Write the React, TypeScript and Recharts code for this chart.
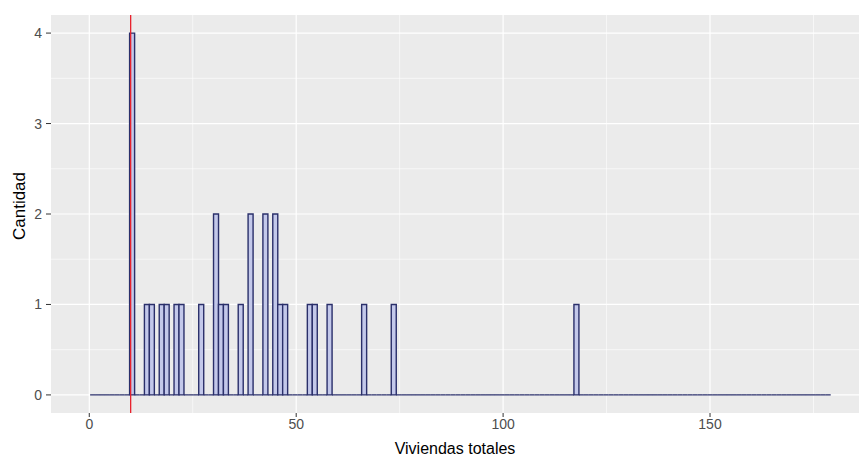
import {
  ComposedChart,
  Bar,
  XAxis,
  YAxis,
  CartesianGrid,
  ReferenceLine,
  Label,
} from "recharts";

// histogram bins (ggplot style: equal width, starting just above 0)
const BIN_START = 0.2;
const BIN_WIDTH = 1.193;
const BIN_COUNT = 150;

// centre of each non-empty bin, and its count
const binCentres = [
  10.3, 13.9, 15.1, 17.5, 18.7, 21.1, 22.3, 27.0, 30.6, 31.8, 33.0, 36.6,
  39.0, 42.5, 44.9, 46.1, 47.3, 53.3, 54.5, 58.1, 66.4, 73.6, 117.7,
];
const binCounts = [
  4, 1, 1, 1, 1, 1, 1, 1, 2, 1, 1, 1, 2, 2, 2, 1, 1, 1, 1, 1, 1, 1, 1,
];

const xTicks = [0, 50, 100, 150];
const xMinor = [25, 75, 125, 175];
const yTicks = [0, 1, 2, 3, 4];
const yMinor = [0.5, 1.5, 2.5, 3.5];
const cutoff = 10;

const bins = Array.from({ length: BIN_COUNT }, (_, i) => ({
  x: BIN_START + (i + 0.5) * BIN_WIDTH,
  cantidad: 0,
}));
binCentres.forEach((c, i) => {
  const k = Math.floor((c - BIN_START) / BIN_WIDTH);
  bins[k].cantidad += binCounts[i];
});

// outline even for empty bins, like geom_histogram does
const HistRect = (props: any) => {
  const { x, y, width, height } = props;
  const h = Math.max(height || 0, 0);
  const d = `M${x},${y + h} V${y} H${x + width} V${y + h} Z`;
  return <path d={d} fill="#c3c8ea" stroke="#2a2f6a" strokeWidth={1.4} />;
};

const tickStyle = { fill: "#4d4d4d", fontSize: 14, fontFamily: "Liberation Sans" };

export default function App() {
  return (
    <div style={{ position: "absolute", left: 0, top: 0, width: 859, height: 457, background: "#fff" }}>
      <ComposedChart
        width={859}
        height={457}
        data={bins}
        margin={{ top: 15, right: 0, bottom: 0, left: 0 }}
        barCategoryGap={0}
        barGap={0}
      >
        <CartesianGrid
          fill="#ebebeb"
          stroke="#ffffff"
          strokeWidth={0.6}
          horizontalValues={yMinor}
          verticalValues={xMinor}
        />
        <CartesianGrid
          stroke="#ffffff"
          strokeWidth={1.2}
          horizontalValues={yTicks}
          verticalValues={xTicks}
        />
        <XAxis
          type="number"
          dataKey="x"
          domain={[-9.25, 186]}
          allowDataOverflow
          ticks={xTicks}
          height={44}
          axisLine={false}
          tickLine={{ stroke: "#333333" }}
          tickSize={4}
          tickMargin={2}
          tick={tickStyle}
        >
          <Label
            value="Viviendas totales"
            position="insideBottom"
            offset={3}
            style={{ fill: "#000", fontSize: 16, fontFamily: "Liberation Sans" }}
          />
        </XAxis>
        <YAxis
          type="number"
          domain={[-0.2, 4.2]}
          allowDataOverflow
          ticks={yTicks}
          width={51}
          axisLine={false}
          tickLine={{ stroke: "#333333" }}
          tickSize={5}
          tickMargin={4}
          tick={tickStyle}
        >
          <Label
            content={(p: any) => {
              const vb = p.viewBox;
              const cx = vb.x + 19;
              const cy = vb.y + vb.height / 2 - 8;
              return (
                <text
                  x={cx}
                  y={cy}
                  transform={`rotate(-90 ${cx} ${cy})`}
                  textAnchor="middle"
                  dominantBaseline="central"
                  fontSize={17}
                  fontFamily="Liberation Sans"
                  fill="#000"
                >
                  Cantidad
                </text>
              );
            }}
          />
        </YAxis>
        <Bar dataKey="cantidad" shape={HistRect} isAnimationActive={false} />
        <ReferenceLine x={cutoff} stroke="#e8202c" strokeWidth={1.3} />
      </ComposedChart>
    </div>
  );
}
